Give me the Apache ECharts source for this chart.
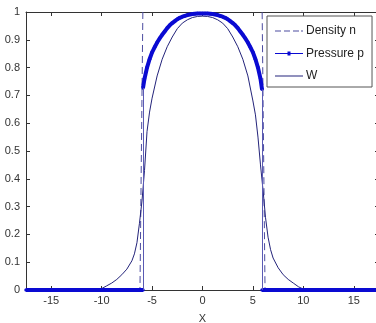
<!DOCTYPE html>
<html>
<head>
<meta charset="utf-8">
<script src="https://cdn.jsdelivr.net/npm/echarts@6/dist/echarts.min.js"></script>
<style>
html,body{margin:0;padding:0;background:#fff;}
#c{width:376px;height:323px;}
</style>
</head>
<body>
<div id="c"></div>
<script>
// ---- data ----
var xTicks = [-15, -10, -5, 0, 5, 10, 15];
var xMin = -17.5, xMax = 17.5;

// Density n (dashed)
var densX = [-17.5, -6.2, -5.9, 5.9, 6.2, 17.5];
var densY = [0, 0, 1.05, 1.05, 0, 0];

// Pressure p (thick, dotted markers) – curve part inside the core
var presX = [-5.9, -5.75, -5.5, -5.25, -5, -4.75, -4.5, -4.25, -4, -3.75, -3.5, -3.25, -3, -2.75, -2.5, -2.25, -2, -1.75, -1.5, -1.25, -1, -0.75, -0.5, -0.25, 0,
             0.25, 0.5, 0.75, 1, 1.25, 1.5, 1.75, 2, 2.25, 2.5, 2.75, 3, 3.25, 3.5, 3.75, 4, 4.25, 4.5, 4.75, 5, 5.25, 5.5, 5.75, 5.9];
var presY = [0.727, 0.76, 0.80, 0.83, 0.855, 0.873, 0.89, 0.905, 0.918, 0.93, 0.942, 0.952, 0.96, 0.967, 0.974, 0.979, 0.983, 0.986, 0.989, 0.991, 0.993, 0.994, 0.995, 0.995, 0.995,
             0.995, 0.995, 0.994, 0.993, 0.991, 0.989, 0.986, 0.983, 0.979, 0.974, 0.967, 0.96, 0.952, 0.942, 0.93, 0.918, 0.905, 0.89, 0.873, 0.855, 0.83, 0.80, 0.76, 0.722];
// Pressure p – zero part outside the core
var presZeroLeftX = [-17.5, -5.9];
var presZeroRightX = [5.9, 17.5];

// W (thin solid)
var wX = [-17.5, -10, -9.5, -9, -8.5, -8, -7.5, -7, -6.75, -6.5, -6.25, -6, -5.75, -5.5, -5.25, -5, -4.5, -4, -3.5, -3, -2.5, -2, -1.5, -1, -0.5, 0,
          0.5, 1, 1.5, 2, 2.5, 3, 3.5, 4, 4.5, 5, 5.25, 5.5, 5.75, 6, 6.25, 6.5, 6.75, 7, 7.5, 8, 8.5, 9, 9.5, 10, 17.5];
var wY = [0, 0.005, 0.015, 0.025, 0.038, 0.055, 0.075, 0.105, 0.13, 0.17, 0.24, 0.32, 0.43, 0.57, 0.64, 0.69, 0.77, 0.83, 0.875, 0.91, 0.94, 0.96, 0.972, 0.98, 0.984, 0.985,
          0.984, 0.98, 0.972, 0.96, 0.94, 0.91, 0.875, 0.83, 0.77, 0.68, 0.63, 0.55, 0.45, 0.36, 0.26, 0.19, 0.145, 0.115, 0.08, 0.055, 0.038, 0.025, 0.012, 0.003, 0];

var legendNames = ['Density n', 'Pressure p', 'W'];
var xName = 'X';

// ---- build series data ----
function zip(xs, ys) { var o = []; for (var i = 0; i < xs.length; i++) o.push([xs[i], ys[i]]); return o; }
var presData = [];
presZeroLeftX.forEach(function (x) { presData.push([x, 0]); });
presData.push([presZeroLeftX[1], '-']);
presData = presData.concat(zip(presX, presY));
presData.push([presZeroRightX[0], '-']);
presZeroRightX.forEach(function (x) { presData.push([x, 0]); });

var font = 'Liberation Sans, Arial, sans-serif';
var axisCol = '#333';
var colDens = '#4c4ca0', colPres = '#0a0ad2', colW = '#23237a';

// legend icons (line samples)
var iconDashed = 'path://M0,0H6V1H0Z M9,0H15V1H9Z M18,0H24V1H18Z M26,0H28V1H26Z';
var iconDot = 'path://M0,1.5H28V2.5H0Z M12.5,0H15.5V4H12.5Z';
var iconSolid = 'path://M0,0H28V1H0Z';

var chart = echarts.init(document.getElementById('c'), null, { renderer: 'canvas' });
chart.setOption({
  animation: false,
  backgroundColor: '#fff',
  grid: { left: 26, top: 12, right: -3, bottom: 33, containLabel: false, outerBoundsMode: 'none' },
  legend: {
    orient: 'vertical', left: 267, top: 16,
    data: [
      { name: legendNames[0], icon: iconDashed, itemStyle: { color: colDens } },
      { name: legendNames[1], icon: iconDot, itemStyle: { color: colPres } },
      { name: legendNames[2], icon: iconSolid, itemStyle: { color: colW } }
    ],
    itemWidth: 28, itemHeight: 12, itemGap: 10.5,
    padding: [9, 8, 5, 8],
    borderColor: '#555', borderWidth: 1, backgroundColor: '#fff',
    textStyle: { fontFamily: font, fontSize: 12, color: '#222', padding: [0, 0, 0, -2] }
  },
  xAxis: [{
    type: 'value', min: xMin, max: xMax, position: 'bottom',
    name: xName, nameLocation: 'middle', nameGap: 23,
    nameTextStyle: { fontFamily: font, fontSize: 11, color: '#333' },
    axisLine: { show: true, onZero: false, lineStyle: { color: axisCol, width: 1 } },
    axisTick: { show: true, inside: true, length: 4, customValues: xTicks, lineStyle: { color: axisCol } },
    axisLabel: { show: true, customValues: xTicks, margin: 5, fontFamily: font, fontSize: 11, color: '#333' },
    splitLine: { show: false }
  }, {
    type: 'value', min: xMin, max: xMax, position: 'top',
    axisLine: { show: true, onZero: false, lineStyle: { color: axisCol, width: 1 } },
    axisTick: { show: true, inside: true, length: 4, customValues: xTicks, lineStyle: { color: axisCol } },
    axisLabel: { show: false },
    splitLine: { show: false }
  }],
  yAxis: [{
    type: 'value', min: 0, max: 1, interval: 0.1, position: 'left',
    axisLine: { show: true, onZero: false, lineStyle: { color: axisCol, width: 1 } },
    axisTick: { show: true, inside: true, length: 4, lineStyle: { color: axisCol } },
    axisLabel: { margin: 6, fontFamily: font, fontSize: 11, color: '#333',
      formatter: function (v) { return String(Math.round(v * 10) / 10); } },
    splitLine: { show: false }
  }, {
    type: 'value', min: 0, max: 1, interval: 0.1, position: 'right',
    axisLine: { show: true, onZero: false, lineStyle: { color: axisCol, width: 1 } },
    axisTick: { show: true, inside: true, length: 4, lineStyle: { color: axisCol } },
    axisLabel: { show: false },
    splitLine: { show: false }
  }],
  series: [{
    name: legendNames[0], type: 'line', data: zip(densX, densY), symbol: 'none',
    lineStyle: { color: colDens, width: 1, type: [7, 4] }, itemStyle: { color: colDens },
    clip: true, z: 2
  }, {
    name: legendNames[2], type: 'line', data: zip(wX, wY), symbol: 'none',
    lineStyle: { color: colW, width: 1 }, itemStyle: { color: colW },
    clip: true, z: 3
  }, {
    name: legendNames[1], type: 'line', data: presData, connectNulls: false,
    symbol: 'circle', symbolSize: 3.5, showSymbol: true,
    lineStyle: { color: colPres, width: 4 }, itemStyle: { color: colPres },
    clip: true, z: 4,
    markLine: {
      silent: true, symbol: 'none', label: { show: false },
      lineStyle: { color: '#5a5ab4', width: 1, type: 'solid' },
      data: [
        [{ coord: [presX[0], 0] }, { coord: [presX[0], presY[0]] }],
        [{ coord: [presX[presX.length - 1], 0] }, { coord: [presX[presX.length - 1], presY[presY.length - 1]] }]
      ]
    }
  }]
});
</script>
</body>
</html>
